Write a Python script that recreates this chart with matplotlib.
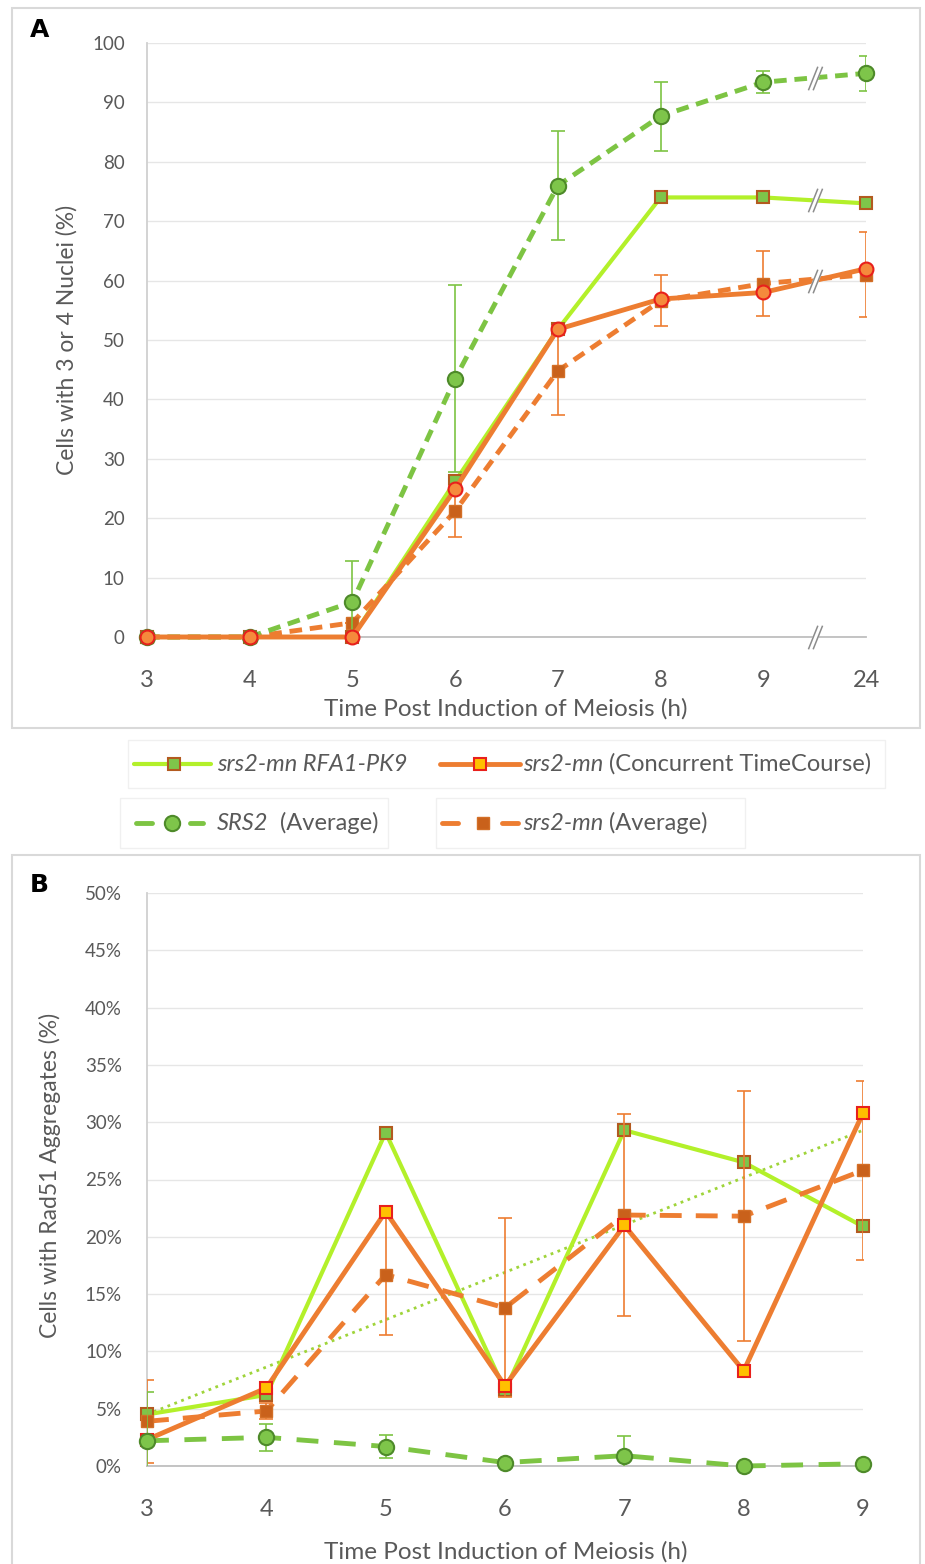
import numpy as np
import matplotlib
matplotlib.use("Agg")
import matplotlib.pyplot as plt
from matplotlib.path import Path
from matplotlib.patches import Rectangle
from matplotlib.lines import Line2D

W, H = 925, 1564

# panel A: cells with 3 or 4 nuclei (%)
times_a = ["3", "4", "5", "6", "7", "8", "9", "24"]
rfa1_a = [0, 0, 0, 26.2, 51.8, 74.0, 74.0, 73.0]
conc_a = [0, 0, 0, 24.9, 51.8, 56.9, 58.0, 62.0]
srs2_a = [0, 0, 5.9, 43.5, 76.0, 87.7, 93.4, 94.9]
srs2_a_err = [0, 0, 6.9, 15.7, 9.2, 5.8, 1.9, 2.9]
mnavg_a = [0, 0, 2.4, 21.2, 44.8, 56.6, 59.5, 61.0]
mnavg_a_err = [0, 0, 0, 4.3, 7.5, 4.3, 5.5, 7.2]

# panel B: cells with Rad51 aggregates (%)
times_b = ["3", "4", "5", "6", "7", "8", "9"]
rfa1_b = [4.5, 6.2, 29.1, 6.6, 29.3, 26.5, 20.9]
conc_b = [2.3, 6.8, 22.2, 7.0, 21.0, 8.3, 30.8]
srs2_b = [2.2, 2.5, 1.7, 0.3, 0.9, 0.0, 0.2]
srs2_b_err = [4.3, 1.2, 1.0, 0.3, 1.7, 0.0, 0.0]
mnavg_b = [3.9, 4.8, 16.7, 13.8, 21.9, 21.8, 25.8]
mnavg_b_err = [3.6, 0.7, 5.3, 7.8, 8.8, 10.9, 7.8]
trend_b = [4.5, 29.3]   # dotted linear trend at first and last time point

LIME = "#b3f02a"
GREEN = "#7dc443"
GREEN_FC = "#7ec54a"
GREEN_EC = "#4e8a2a"
ORANGE = "#ed7d31"
RED = "#e8201c"
BROWN = "#b35a1f"
YELLOW = "#ffc000"
AVG_FC = "#c9611b"
TXT = "#595959"

plt.rcParams["font.family"] = ["Lato", "DejaVu Sans"]

fig = plt.figure(figsize=(W / 100, H / 100), dpi=100, facecolor="w")


def fx(x):
    return x / W


def fy(y):
    return 1 - y / H


def style_axes(ax, ymax, step, fmt, xpad, ypad):
    ax.set_ylim(0, ymax)
    ax.set_yticks(np.arange(0, ymax + step / 2, step))
    ax.set_yticklabels([fmt(v) for v in np.arange(0, ymax + step / 2, step)])
    ax.grid(axis="y", color="#e6e6e6", lw=1)
    ax.set_axisbelow(True)
    for s in ["top", "right"]:
        ax.spines[s].set_visible(False)
    ax.spines["bottom"].set_color("#bfbfbf")
    ax.spines["bottom"].set_linewidth(1.3)
    ax.spines["left"].set_color("#d0d0d0")
    ax.spines["left"].set_linewidth(1.3)
    ax.tick_params(length=0, colors=TXT)
    ax.tick_params(axis="x", labelsize=17, pad=xpad)
    ax.tick_params(axis="y", labelsize=13.5, pad=ypad)


# frames round the panels
fig.add_artist(Rectangle((fx(12), fy(728)), fx(908), 720 / H, transform=fig.transFigure,
                         fill=False, ec="#d9d9d9", lw=1.5))
fig.add_artist(Rectangle((fx(12), fy(1580)), fx(908), 725 / H, transform=fig.transFigure,
                         fill=False, ec="#d9d9d9", lw=1.5))

# ---------------------------------------------------------------------------
# panel A
ax = fig.add_axes([fx(147), fy(637), fx(866 - 147), (637 - 43) / H])
xa = np.arange(len(times_a))
ax.set_xlim(0, len(times_a) - 1)
ax.set_xticks(xa)
ax.set_xticklabels(times_a)
style_axes(ax, 100, 10, lambda v: "%d" % v, 24, 16)

ax.plot(xa, rfa1_a, "-", color=LIME, lw=3, marker="s", ms=9, mfc=GREEN_FC, mec=BROWN,
        mew=1.5, zorder=3, clip_on=False)
ax.errorbar(xa, mnavg_a, yerr=mnavg_a_err, fmt="none", ecolor=ORANGE, elinewidth=1.2,
            capsize=5, capthick=1.2, zorder=4)
ax.plot(xa, mnavg_a, color=ORANGE, lw=3.5, dashes=(2.6, 1.6), marker="s", ms=8,
        mfc=AVG_FC, mec="#d36f27", zorder=4.5, clip_on=False)
ax.errorbar(xa, srs2_a, yerr=srs2_a_err, fmt="none", ecolor=GREEN, elinewidth=1.2,
            capsize=5, capthick=1.2, zorder=5)
ax.plot(xa, srs2_a, color=GREEN, lw=3.5, dashes=(2.6, 1.6), marker="o", ms=11,
        mfc=GREEN_FC, mec=GREEN_EC, mew=1.5, zorder=5.5, clip_on=False)
ax.plot(xa, conc_a, "-", color=ORANGE, lw=3.5, marker="o", ms=10, mfc="#f58a3c", mec=RED,
        mew=1.5, zorder=6, clip_on=False)

# axis break marks between 9 and 24
brk_fill = Path([(-0.6, -1), (0.2, 1), (0.6, 1), (-0.2, -1), (-0.6, -1)],
                [Path.MOVETO, Path.LINETO, Path.LINETO, Path.LINETO, Path.CLOSEPOLY])
brk_line = Path([(-0.6, -1), (0.2, 1), (-0.2, -1), (0.6, 1)],
                [Path.MOVETO, Path.LINETO, Path.MOVETO, Path.LINETO])
xb = (xa[-2] + xa[-1]) / 2
for ser in [0 * np.array(srs2_a), srs2_a, rfa1_a, conc_a]:
    yb = (ser[-2] + ser[-1]) / 2
    ax.plot([xb], [yb], ls="none", marker=brk_fill, ms=17, mfc="w", mec="w", mew=1,
            zorder=7, clip_on=False)
    ax.plot([xb], [yb], ls="none", marker=brk_line, ms=17, mec="#8c8c8c", mew=1.1,
            zorder=7.5, clip_on=False)

fig.text(fx(67), fy(340), "Cells with 3 or 4 Nuclei (%)", rotation=90, ha="center",
         va="center", fontsize=16.5, color=TXT)
fig.text(fx(506), fy(709), "Time Post Induction of Meiosis (h)", ha="center",
         va="center", fontsize=17.5, color=TXT)
fig.text(fx(30), fy(30), "A", fontsize=18, fontweight="heavy", family="DejaVu Sans",
         va="center", ha="left")

# ---------------------------------------------------------------------------
# panel B
bx = fig.add_axes([fx(147), fy(1466), fx(863 - 147), (1466 - 893) / H])
xbn = np.arange(len(times_b))
bx.set_xlim(0, len(times_b) - 1)
bx.set_xticks(xbn)
bx.set_xticklabels(times_b)
style_axes(bx, 50, 5, lambda v: "%d%%" % v, 24, 18)

bx.plot(xbn[[0, -1]], trend_b, ":", color="#9fd43a", lw=2, zorder=2)
bx.plot(xbn, rfa1_b, "-", color=LIME, lw=3, marker="s", ms=9, mfc=GREEN_FC, mec=BROWN,
        mew=1.5, zorder=3, clip_on=False)
bx.errorbar(xbn, mnavg_b, yerr=mnavg_b_err, fmt="none", ecolor=ORANGE, elinewidth=1.2,
            capsize=5, capthick=1.2, zorder=4)
bx.plot(xbn, mnavg_b, color=ORANGE, lw=3.5, dashes=(4.5, 2.9), marker="s", ms=8,
        mfc=AVG_FC, mec="#d36f27", zorder=4.5, clip_on=False)
bx.plot(xbn, conc_b, "-", color=ORANGE, lw=3.5, marker="s", ms=9, mfc=YELLOW, mec=RED,
        mew=1.5, zorder=5, clip_on=False)
bx.errorbar(xbn, srs2_b, yerr=srs2_b_err, fmt="none", ecolor=GREEN, elinewidth=1.2,
            capsize=5, capthick=1.2, zorder=5.5)
bx.plot(xbn, srs2_b, color=GREEN, lw=3.5, dashes=(4.5, 3.2), marker="o", ms=11,
        mfc=GREEN_FC, mec=GREEN_EC, mew=1.5, zorder=6, clip_on=False)

fig.text(fx(50), fy(1175), "Cells with Rad51 Aggregates (%)", rotation=90, ha="center",
         va="center", fontsize=16.5, color=TXT)
fig.text(fx(506), fy(1552), "Time Post Induction of Meiosis (h)", ha="center",
         va="center", fontsize=17.5, color=TXT)
fig.text(fx(30), fy(885), "B", fontsize=18, fontweight="heavy", family="DejaVu Sans",
         va="center", ha="left")

# ---------------------------------------------------------------------------
# legend between the panels
for (x0, y0, x1, y1) in [(128, 740, 885, 788), (120, 798, 388, 848), (436, 798, 745, 848)]:
    fig.add_artist(Rectangle((fx(x0), fy(y1)), (x1 - x0) / W, (y1 - y0) / H,
                             transform=fig.transFigure, fill=False, ec="#f0f0f0", lw=1))

renderer = fig.canvas.get_renderer()


def seg_text(x, y, parts, size=17):
    xf = fx(x)
    for s, st in parts:
        t = fig.text(xf, fy(y), s, style=st, fontsize=size, color=TXT, va="center")
        bb = t.get_window_extent(renderer=renderer)
        xf = fig.transFigure.inverted().transform((bb.x1, bb.y0))[0]


def handle(segs, xm, y, color, lw, **mk):
    for a, b in segs:
        fig.add_artist(Line2D([fx(a), fx(b)], [fy(y), fy(y)], transform=fig.transFigure,
                              color=color, lw=lw, solid_capstyle="round"))
    fig.add_artist(Line2D([fx(xm)], [fy(y)], transform=fig.transFigure, ls="none", **mk))


handle([(134, 211)], 174, 764, LIME, 3, marker="s", ms=9, mfc=GREEN_FC, mec=BROWN, mew=1.5)
seg_text(217, 764, [("srs2-mn RFA1-PK9", "italic")])
handle([(440, 520)], 480, 764, ORANGE, 3.5, marker="s", ms=9, mfc=YELLOW, mec=RED, mew=1.5)
seg_text(523, 764, [("srs2-mn", "italic"), (" (Concurrent TimeCourse)", "normal")])
handle([(136, 152), (190, 203)], 172, 823, GREEN, 3.5, marker="o", ms=11, mfc=GREEN_FC,
       mec=GREEN_EC, mew=1.5)
seg_text(217, 823, [("SRS2", "italic"), ("  (Average)", "normal")])
handle([(442, 458), (502, 518)], 483, 823, ORANGE, 3.5, marker="s", ms=8, mfc=AVG_FC,
       mec="#d36f27")
seg_text(523, 823, [("srs2-mn", "italic"), (" (Average)", "normal")])

fig.savefig("out.png", dpi=100, facecolor="w")
